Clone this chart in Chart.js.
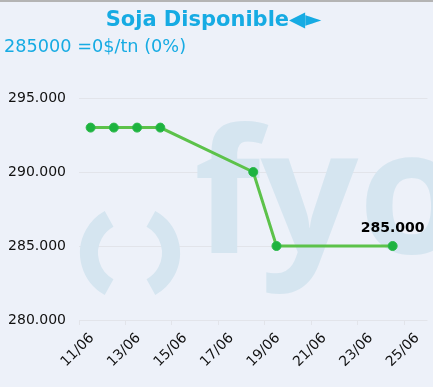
<!DOCTYPE html>
<html>
<head>
<meta charset="utf-8">
<script src="https://cdn.jsdelivr.net/npm/chart.js@4"></script>
<style>
  html, body { margin: 0; padding: 0; }
  body { width: 433px; height: 387px; background: #edf1f9; position: relative; overflow: hidden; font-family: "DejaVu Sans", sans-serif; }
  #topline { position: absolute; left: 0; top: 0; width: 433px; height: 2px; background: #b4b4b4; }
  #title { position: absolute; left: -3px; top: 7px; width: 433px; text-align: center; font-size: 21px; font-weight: bold; color: #16abe3; }
  #sub { position: absolute; left: 4px; top: 36px; font-size: 17.7px; color: #16abe3; }
  canvas { position: absolute; left: 0; top: 0; }
</style>
</head>
<body>
<div id="topline"></div>
<canvas id="chart" width="433" height="387"></canvas>
<div id="title">Soja Disponible◀►</div>
<div id="sub">285000 =0$/tn (0%)</div>
<script>
// days of June (fractional = time of day of the quote)
const days = [11.5, 12.5, 13.5, 14.5, 18.5, 19.5, 24.5];
const prices = [293000, 293000, 293000, 293000, 290000, 285000, 285000];
const xTicks = [11, 13, 15, 17, 19, 21, 23, 25];
const yTicks = [280000, 285000, 290000, 295000];

const fmt = v => Math.round(v).toString().replace(/\B(?=(\d{3})+(?!\d))/g, '.');
const pad2 = d => (d < 10 ? '0' : '') + d;

const watermark = {
  id: 'watermark',
  beforeDatasetsDraw(chart) {
    const c = chart.ctx;
    c.save();
    c.fillStyle = '#d5e5f0';
    c.strokeStyle = '#d5e5f0';
    c.font = 'bold 172px "Open Sans"';
    c.textBaseline = 'alphabetic';
    c.fillText('fyo', 194, 253);
    c.lineWidth = 18;
    c.beginPath();
    c.arc(128, 253, 39, 119 * Math.PI / 180, 241 * Math.PI / 180);
    c.stroke();
    c.beginPath();
    c.arc(132, 253, 39, -61 * Math.PI / 180, 61 * Math.PI / 180);
    c.stroke();
    c.restore();
  }
};

const lastLabel = {
  id: 'lastLabel',
  afterDatasetsDraw(chart) {
    const pts = chart.getDatasetMeta(0).data;
    const p = pts[pts.length - 1];
    const c = chart.ctx;
    c.save();
    c.font = 'bold 14px "DejaVu Sans"';
    c.fillStyle = '#000';
    c.textAlign = 'center';
    c.textBaseline = 'alphabetic';
    c.fillText(fmt(prices[prices.length - 1]), p.x, p.y - 14);
    c.restore();
  }
};

new Chart(document.getElementById('chart'), {
  type: 'line',
  data: {
    datasets: [{
      data: days.map((d, i) => ({ x: d, y: prices[i] })),
      borderColor: '#5cc24a',
      borderWidth: 3,
      pointRadius: 4.5,
      pointBackgroundColor: '#1db33f',
      pointBorderColor: '#2bb84a',
      pointBorderWidth: 1,
      tension: 0
    }]
  },
  options: {
    responsive: false,
    animation: false,
    layout: { padding: { top: 98, right: 3, left: 0, bottom: 0 } },
    plugins: { legend: { display: false }, tooltip: { enabled: false } },
    scales: {
      x: {
        type: 'linear',
        min: 11, max: 26,
        afterBuildTicks: s => { s.ticks = xTicks.map(v => ({ value: v })); },
        afterFit: s => { s.height = 67; },
        border: { display: false },
        grid: { display: true, drawOnChartArea: false, tickLength: 5, color: '#e2e4ea' },
        ticks: {
          autoSkip: false, minRotation: 45, maxRotation: 45, labelOffset: 13, padding: 5,
          color: '#111', font: { family: 'DejaVu Sans', size: 14 },
          callback: v => pad2(v) + '/06'
        }
      },
      y: {
        min: 280000, max: 295000,
        afterBuildTicks: s => { s.ticks = yTicks.map(v => ({ value: v })); },
        afterFit: s => { s.width = 79; },
        border: { display: false },
        grid: { color: '#e2e4ea', drawTicks: false },
        ticks: {
          padding: 13, color: '#111', font: { family: 'DejaVu Sans', size: 14 },
          callback: v => fmt(v)
        }
      }
    }
  },
  plugins: [watermark, lastLabel]
});
</script>
</body>
</html>
